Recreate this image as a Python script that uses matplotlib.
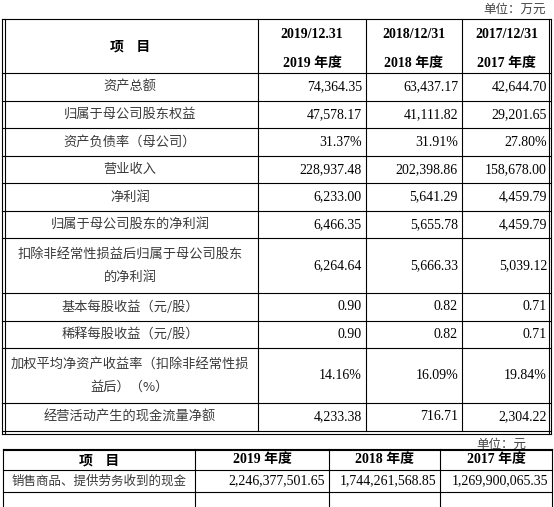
import matplotlib
matplotlib.use("Agg")
import matplotlib.pyplot as plt

plt.rcParams['font.family'] = ['Noto Sans CJK SC', 'DejaVu Sans']

# ---- data ----
headers_top = [("2019/12.31", "2019 年度"), ("2018/12/31", "2018 年度"), ("2017/12/31", "2017 年度")]
items = ["资产总额", "归属于母公司股东权益", "资产负债率（母公司）", "营业收入", "净利润",
         "归属于母公司股东的净利润", "扣除非经常性损益后归属于母公司股东\n的净利润",
         "基本每股收益（元/股）", "稀释每股收益（元/股）",
         "加权平均净资产收益率（扣除非经常性损\n益后）（%）", "经营活动产生的现金流量净额"]
v2019 = ["74,364.35", "47,578.17", "31.37%", "228,937.48", "6,233.00", "6,466.35",
         "6,264.64", "0.90", "0.90", "14.16%", "4,233.38"]
v2018 = ["63,437.17", "41,111.82", "31.91%", "202,398.86", "5,641.29", "5,655.78",
         "5,666.33", "0.82", "0.82", "16.09%", "716.71"]
v2017 = ["42,644.70", "29,201.65", "27.80%", "158,678.00", "4,459.79", "4,459.79",
         "5,039.12", "0.71", "0.71", "19.84%", "2,304.22"]
headers_bot = ["2019 年度", "2018 年度", "2017 年度"]
item_bot = "销售商品、提供劳务收到的现金"
vals_bot = ["2,246,377,501.65", "1,744,261,568.85", "1,269,900,065.35"]

# ---- layout (pixels) ----
fig = plt.figure(figsize=(5.54, 5.07), dpi=100)
ax = fig.add_axes([0, 0, 1, 1])
ax.set_xlim(0, 554)
ax.set_ylim(507, 0)
ax.axis('off')

FS = 10
FS_CJK = 9.5
num_font = ['Liberation Serif', 'Noto Sans CJK SC']
lc = 'black'
txt_c = '#3a3a3a'

# top table
xs = [2, 258, 366, 462, 551]
row_lines = [19, 73, 101, 128, 156, 183, 211, 238, 293, 321, 348, 403, 431]
ax.text(546, 9, "单位：万元", ha='right', va='center', fontsize=9, color='#444444')
for y in row_lines:
    ax.plot([xs[0], xs[-1]], [y, y], color=lc, lw=0.8)
ax.plot([xs[0], xs[-1]], [433.5, 433.5], color=lc, lw=0.8)
for x in xs[1:-1]:
    ax.plot([x, x], [19, 431], color=lc, lw=0.8)
for x in [2, 4.5, 548.5, 551]:
    ax.plot([x, x], [19, 433.5], color=lc, lw=0.8)

ax.text(130, 46, "项    目", ha='center', va='center', fontsize=FS, fontweight='bold')
for i, (h1, h2) in enumerate(headers_top):
    cx = (xs[i + 1] + xs[i + 2]) / 2
    ax.text(cx, 34, h1, ha='center', va='center', fontsize=FS, fontweight='bold', family=num_font)
    ax.text(cx, 64, h2, ha='center', va='center', fontsize=FS, fontweight='bold', family=num_font)

for r, name in enumerate(items):
    y0, y1 = row_lines[r + 1], row_lines[r + 2]
    cy = (y0 + y1) / 2
    ax.text(130, cy, name, ha='center', va='center', fontsize=FS_CJK, color=txt_c, linespacing=2.0)
    for j, col in enumerate([v2019, v2018, v2017]):
        ax.text(xs[j + 2] - 4, cy, col[r], ha='right', va='center', fontsize=FS, family=num_font)

# bottom table
xb = [3, 195, 329, 440, 552]
yb = [450, 470, 492]
ax.text(526, 444, "单位：元", ha='right', va='center', fontsize=9, color='#444444')
ax.plot([xb[0], xb[-1]], [449, 449], color=lc, lw=0.8)
for y in yb:
    ax.plot([xb[0], xb[-1]], [y, y], color=lc, lw=0.8)
for x in xb:
    ax.plot([x, x], [449, 507], color=lc, lw=0.8)
ax.text(99, 460, "项    目", ha='center', va='center', fontsize=FS, fontweight='bold')
for i, h in enumerate(headers_bot):
    ax.text((xb[i + 1] + xb[i + 2]) / 2, 460, h, ha='center', va='center', fontsize=FS,
            fontweight='bold', family=num_font)
ax.text(99, 481, item_bot, ha='center', va='center', fontsize=9, color=txt_c)
for j, v in enumerate(vals_bot):
    ax.text(xb[j + 2] - 4, 481, v, ha='right', va='center', fontsize=FS, family=num_font)

fig.savefig("out.png", dpi=100)
